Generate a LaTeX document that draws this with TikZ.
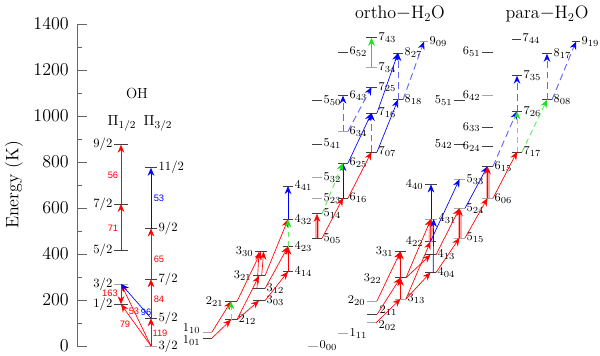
\documentclass[tikz,border=0pt]{standalone}
\usepackage{fontspec}
\newfontfamily\numfont{Liberation Sans}
\usetikzlibrary{arrows.meta,calc}
\definecolor{grn}{RGB}{30,225,30}
\tikzset{
  x=0.75pt, y=-0.75pt,
  lev/.style={draw=black!75, line width=0.6pt},
  levg/.style={draw=black!35, line width=0.6pt},
  lab/.style={font=\fontsize{9.5}{11}\selectfont, inner sep=1pt},
  ttl/.style={font=\fontsize{13.5}{15}\selectfont, inner sep=0pt},
  ohttl/.style={font=\fontsize{11}{13}\selectfont, inner sep=0pt},
  num/.style={font=\numfont\fontsize{7}{8}\selectfont, inner sep=0pt},
  axisline/.style={draw=black!60, line width=0.6pt},
  tipr/.style={-{Stealth[length=6pt,width=5pt,inset=2pt,red]}},
  tipb/.style={-{Stealth[length=6pt,width=5pt,inset=2pt,blue]}},
  tipg/.style={-{Stealth[length=6pt,width=5pt,inset=2pt,grn]}},
  ar/.style={draw=red, line width=0.5pt, tipr},
  ab/.style={draw=blue, line width=0.5pt, tipb},
  abd/.style={draw=blue!60, line width=0.7pt, dash pattern=on 5pt off 3pt, tipb},
  ag/.style={draw=grn, line width=0.5pt, tipg},
  agd/.style={draw=grn!70, line width=0.7pt, dash pattern=on 4pt off 3pt, tipg},
  pk/.style={draw=red!35, line width=3pt},
}
\newcommand\LvR[6][lev]{%
  \draw[#1] (#3,#5) coordinate (#2-l) -- (#4,#5) coordinate (#2-r);
  \coordinate (#2) at ($(#2-l)!0.5!(#2-r)$);
  \node[lab, anchor=west] (#2-t) at (#2-r) {#6};}
\newcommand\LvL[6][lev]{%
  \draw[#1] (#3,#5) coordinate (#2-l) -- (#4,#5) coordinate (#2-r);
  \coordinate (#2) at ($(#2-l)!0.5!(#2-r)$);
  \node[lab, anchor=east] (#2-t) at (#2-l) {#6};}
\newcommand\LvN[5][lev]{%
  \draw[#1] (#3,#5) coordinate (#2-l) -- (#4,#5) coordinate (#2-r);
  \coordinate (#2) at ($(#2-l)!0.5!(#2-r)$);}
\begin{document}
\begin{tikzpicture}
\useasboundingbox (0,0) rectangle (600,355);
% ---------------- axis
\draw[axisline] (77,346) coordinate (ax0) -- (77,24) coordinate (ax1);
\foreach \E in {0,200,...,1400}{
  \draw[axisline] (77,{346-0.23*\E}) -- ++(10,0);
  \node[ttl, anchor=east] (tk\E) at (69,{346-0.23*\E}) {\E};}
\foreach \E in {100,300,...,1300}{
  \draw[axisline] (77,{346-0.23*\E}) -- ++(5,0);}
\node[ttl, rotate=90] (ylab) at (14,185) {Energy (K)};
% ---------------- titles
\node[ohttl] (toh) at (137,93) {OH};
\node[ohttl] (pi12) at (122,123) {$\Pi_{1/2}$};
\node[ohttl] (pi32) at (158,123) {$\Pi_{3/2}$};
\node[ttl] (tortho) at (400,14) {ortho$-$H$_2$O};
\node[ttl] (tpara) at (547,14) {para$-$H$_2$O};
% ---------------- OH levels
\LvL{a12}{114}{128}{304.2}{1/2}
\LvL[levg]{a32}{114}{128}{283.9}{3/2}
\LvL{a52}{114}{128}{250.3}{5/2}
\LvL{a72}{114}{128}{203.9}{7/2}
\LvL{a92}{114}{128}{144.7}{9/2}
\LvR[levg]{b32}{145}{157}{346}{3/2}
\LvR{b52}{145}{157}{318.2}{5/2}
\LvR{b72}{145}{157}{279.2}{7/2}
\LvR{b92}{145}{157}{228.5}{9/2}
\LvR{b112}{145}{157}{167.8}{11/2}
% ---------------- ortho levels
\LvN[levg]{o110}{203}{212}{332.0}
\node[lab, anchor=east] (o110-t) at (202,329) {$1_{10}$};
\LvN{o101}{203}{212}{338.1}
\node[lab, anchor=east] (o101-t) at (202,341) {$1_{01}$};
\LvR{o212}{225}{237}{319.7}{$2_{12}$}
\LvL{o221}{225}{237}{301.4}{$2_{21}$}
\LvR{o303}{253}{265}{300.7}{$3_{03}$}
\LvR{o312}{253}{265}{288.6}{$3_{12}$}
\LvL{o321}{253}{265}{275.8}{$3_{21}$}
\LvL{o330}{255}{267}{251.6}{$3_{30}$}
\LvR{o414}{283}{293}{271.6}{$4_{14}$}
\LvR{o423}{283}{293}{246.6}{$4_{23}$}
\LvR{o432}{283}{293}{219.4}{$4_{32}$}
\LvR{o441}{283}{293}{186}{$4_{41}$}
\LvR{o505}{312}{322}{238.3}{$5_{05}$}
\LvR{o514}{312}{322}{213.8}{$5_{14}$}
\LvR[levg]{o523}{312}{322}{198.2}{$5_{23}$}
\LvR[levg]{o532}{312}{322}{177.6}{$5_{32}$}
\LvR{o541}{312}{322}{144.0}{$5_{41}$}
\LvR{o550}{312}{322}{100.4}{$5_{50}$}
\LvR{o616}{338}{348}{198.0}{$6_{16}$}
\LvR{o625}{338}{348}{163.0}{$6_{25}$}
\LvR[levg]{o634}{338}{348}{131.3}{$6_{34}$}
\LvR{o643}{338}{348}{95.6}{$6_{43}$}
\LvR{o652}{338}{348}{51.9}{$6_{52}$}
\LvR{o707}{366}{377}{152.0}{$7_{07}$}
\LvR{o716}{366}{377}{113.0}{$7_{16}$}
\LvR{o725}{366}{377}{87.1}{$7_{25}$}
\LvR[levg]{o734}{366}{377}{67.3}{$7_{34}$}
\LvR{o743}{366}{377}{37.8}{$7_{43}$}
\LvR{o818}{393}{403}{99.7}{$8_{18}$}
\LvR{o827}{393}{403}{53.0}{$8_{27}$}
\LvR[levg]{o909}{420}{428}{41.5}{$9_{09}$}
% ---------------- para levels
\LvR[levg]{p000}{308}{318}{346}{$0_{00}$}
\LvR[levg]{p111}{338}{348}{333.7}{$1_{11}$}
\LvN[levg]{p202}{367}{376}{322.8}
\node[lab, anchor=west] (p202-t) at (377,326) {$2_{02}$};
\LvN{p211}{367}{377}{314.5}
\node[lab, anchor=west] (p211-t) at (378,311) {$2_{11}$};
\LvL[levg]{p220}{367}{377}{300.9}{$2_{20}$}
\LvR[levg]{p313}{395}{406}{298.9}{$3_{13}$}
\LvN{p322}{395}{406}{277.7}
\node[lab, anchor=east] (p322-t) at (383,279) {$3_{22}$};
\LvL{p331}{395}{406}{251.5}{$3_{31}$}
\LvR{p404}{425}{436}{272.5}{$4_{04}$}
\LvR{p413}{425}{436}{254.8}{$4_{13}$}
\LvL{p422}{425}{436}{241.5}{$4_{22}$}
\LvR[levg]{p431}{425}{437}{219.0}{$4_{31}$}
\LvL{p440}{425}{437}{184.5}{$4_{40}$}
\LvR[levg]{p515}{454}{465}{237.9}{$5_{15}$}
\LvR[levg]{p524}{454}{465}{208.3}{$5_{24}$}
\LvR[levg]{p533}{454}{465}{179.2}{$5_{33}$}
\LvL{p542}{454}{465}{144.1}{$5_{42}$}
\LvL{p551}{454}{465}{100.6}{$5_{51}$}
\LvR[levg]{p606}{482}{493}{198.2}{$6_{06}$}
\LvR{p615}{482}{493}{166.3}{$6_{15}$}
\LvL{p624}{482}{493}{146.5}{$6_{24}$}
\LvL{p633}{482}{493}{127.1}{$6_{33}$}
\LvL[levg]{p642}{482}{493}{95.2}{$6_{42}$}
\LvL{p651}{482}{493}{52.0}{$6_{51}$}
\LvR{p717}{512}{522}{151.9}{$7_{17}$}
\LvR{p726}{512}{522}{111.2}{$7_{26}$}
\LvR{p735}{512}{522}{75.7}{$7_{35}$}
\LvR{p744}{512}{521}{38.9}{$7_{44}$}
\LvR{p808}{542}{552}{99.8}{$8_{08}$}
\LvR{p817}{542}{552}{53.8}{$8_{17}$}
\LvR{p919}{572}{580}{41.5}{$9_{19}$}
% ---------------- OH transitions
\draw[ar] (a52) -- (a72);
\draw[ar] (a72) -- (a92);
\draw[ar] (b32) -- (b52);
\draw[ar] (b52) -- (b72);
\draw[ar] (b72) -- (b92);
\draw[ab] (b92) -- (b112);
\draw[ar] (a32) -- (a12);
\draw[ar] (b32) -- (a12);
\draw[ar] (b32) -- (a32);
\draw[ab] (b52) -- (a32);
\node[num, text=red] (n56) at (113,175) {56};
\node[num, text=red] (n71) at (113,228) {71};
\node[num, text=blue] (n53b) at (159,198) {53};
\node[num, text=red] (n65) at (159,259) {65};
\node[num, text=red] (n84) at (159,299) {84};
\node[num, text=red] (n119) at (160,333) {119};
\node[num, text=red] (n163) at (110,293) {163};
\node[num, text=red] (n53r) at (134,311) {53};
\node[num, text=blue] (n96) at (146,312) {96};
\node[num, text=red] (n79) at (125,324) {79};
% ---------------- ortho transitions
\draw[ar] (o101-r) -- (o212);
\draw[ar] (o110-r) -- (o221);
\draw[agd] (o212) -- (o221);
\draw[ar] (o212-r) -- (o303);
\draw[ar] (o212-r) -- (o321);
\draw[ar] (o221-r) -- (o330);
\draw[ar] ([xshift=-1.5pt]o312) -- ([xshift=-1.5pt]o330);
\draw[ar] ([xshift=2pt]o321) -- ([xshift=2pt]o330);
\draw[ar] (o303-r) -- (o414);
\draw[ar] (o312-r) -- (o423);
\draw[ar] (o321-r) -- (o432);
\draw[ar] (o414) -- (o423);
\draw[agd] (o423) -- (o432);
\draw[ab] (o432) -- (o441);
\draw[pk] (o505) -- ([yshift=-3pt]o514);
\draw[ar] (o505) -- (o514);
\draw[ar] (o505-r) -- (o616);
\draw[ar] (o616-r) -- (o707);
\draw[ab] (o616) -- (o625);
\draw[agd] (o514-r) -- (o625);
\draw[ab] (o625-r) -- (o716);
\draw[abd] (o707) -- (o716);
\draw[ab] (o707-r) -- (o818);
\draw[abd] (o634) -- (o643);
\draw[abd] (o634-r) -- (o725);
\draw[ab] (o716-r) -- (o827);
\draw[abd] (o818) -- (o827);
\draw[abd] (o818-r) -- (o909);
\draw[ag] (o734) -- (o743);
% ---------------- para transitions
\draw[ar] (p202-r) -- (p313);
\draw[ar] (p211-r) -- (p322);
\draw[ar] (p220-r) -- (p331);
\draw[ar] (p313) -- (p322);
\draw[ar] (p322) -- (p331);
\draw[ar] (p313-r) -- (p404);
\draw[ar] (p322-r) -- (p413);
\draw[ar] (p313-r) -- (p422);
\draw[ar] (p322-r) -- (p431);
\draw[pk] (p422) -- ([yshift=-3pt]p431);
\draw[ar] (p422) -- (p431);
\draw[ab] ([xshift=2pt]p404) -- ([xshift=2pt]p431);
\draw[ab] (p431) -- (p440);
\draw[ab] (p422) -- (p533);
\draw[ar] (p404-r) -- (p515);
\draw[ar] (p413-r) -- (p524);
\draw[pk] (p515) -- ([yshift=-3pt]p524);
\draw[ar] (p515) -- (p524);
\draw[ar] (p515-r) -- (p606);
\draw[ab] (p524-r) -- (p615);
\draw[pk] (p606) -- ([yshift=-3pt]p615);
\draw[ar] (p606) -- (p615);
\draw[ar] (p606-r) -- (p717);
\draw[abd] (p615-r) -- (p726);
\draw[agd] (p717) -- (p726);
\draw[agd] (p717-r) -- (p808);
\draw[abd] (p726) -- (p735);
\draw[abd] (p808) -- (p817);
\draw[abd] (p808-r) -- (p919);
\end{tikzpicture}
\end{document}
